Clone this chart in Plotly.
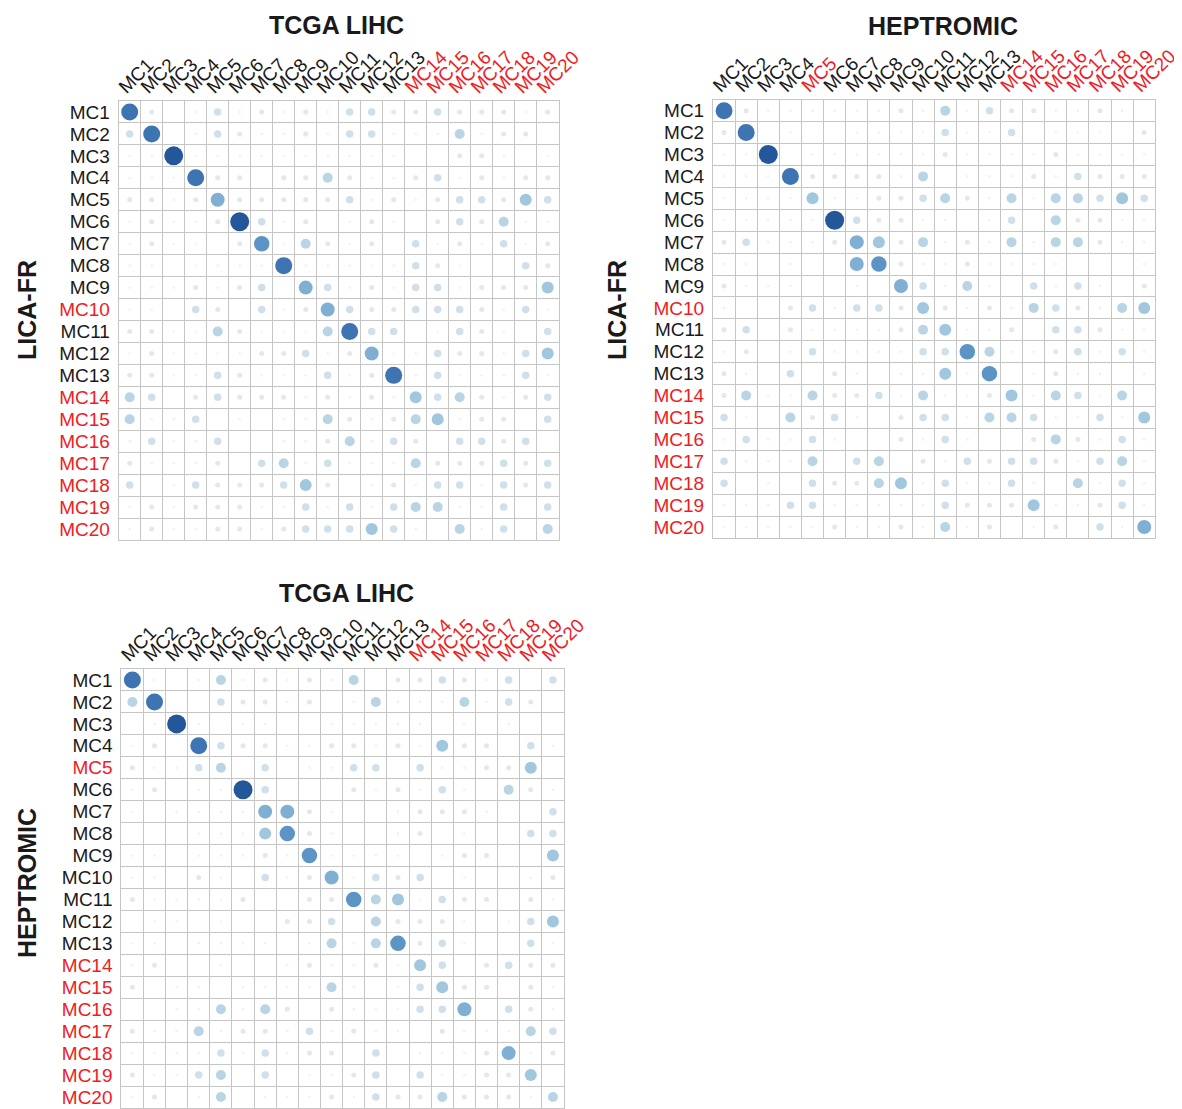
import plotly.graph_objects as go
import numpy as np

# ---------------- data ----------------
mc_labels = ["MC1", "MC2", "MC3", "MC4", "MC5", "MC6", "MC7", "MC8", "MC9", "MC10",
             "MC11", "MC12", "MC13", "MC14", "MC15", "MC16", "MC17", "MC18", "MC19", "MC20"]

tcga_red = ["MC14", "MC15", "MC16", "MC17", "MC18", "MC19", "MC20"]
lica_red = ["MC10", "MC14", "MC15", "MC16", "MC17", "MC18", "MC19", "MC20"]
heptromic_red = ["MC5", "MC14", "MC15", "MC16", "MC17", "MC18", "MC19", "MC20"]

# similarity strength (0-9) ; rows = y-axis cohort, cols = x-axis cohort
lica_vs_tcga = [
    [8, 2, 0, 1, 3, 1, 2, 1, 2, 1, 3, 3, 2, 2, 3, 2, 2, 2, 1, 2],
    [3, 8, 0, 1, 3, 2, 1, 1, 2, 1, 3, 3, 1, 1, 1, 4, 1, 2, 2, 0],
    [1, 1, 9, 1, 1, 1, 1, 1, 1, 1, 1, 1, 1, 0, 0, 2, 2, 1, 0, 1],
    [1, 1, 1, 8, 2, 2, 0, 2, 2, 4, 2, 1, 1, 2, 3, 1, 2, 1, 2, 2],
    [2, 2, 1, 2, 6, 2, 2, 2, 2, 2, 3, 1, 2, 1, 2, 3, 3, 2, 5, 3],
    [1, 2, 1, 1, 2, 9, 3, 1, 2, 0, 1, 2, 1, 0, 2, 3, 2, 4, 1, 1],
    [1, 2, 1, 1, 0, 2, 7, 1, 4, 2, 1, 2, 0, 3, 1, 2, 1, 3, 1, 2],
    [1, 1, 0, 1, 1, 1, 1, 8, 1, 1, 1, 1, 1, 3, 2, 1, 0, 0, 3, 2],
    [1, 1, 1, 2, 1, 2, 3, 0, 6, 3, 1, 2, 1, 3, 3, 1, 2, 2, 2, 5],
    [1, 1, 0, 3, 2, 0, 3, 1, 2, 6, 3, 2, 2, 3, 3, 3, 2, 1, 3, 1],
    [2, 2, 1, 1, 4, 2, 1, 1, 1, 4, 8, 3, 3, 0, 1, 3, 2, 1, 0, 3],
    [1, 2, 1, 1, 1, 1, 2, 2, 3, 1, 2, 6, 1, 1, 3, 2, 2, 1, 3, 5],
    [2, 2, 1, 1, 3, 2, 1, 1, 1, 3, 1, 2, 8, 1, 3, 1, 1, 1, 3, 1],
    [4, 3, 0, 2, 3, 2, 2, 2, 1, 2, 1, 2, 1, 5, 3, 4, 2, 1, 2, 3],
    [4, 1, 1, 3, 0, 1, 0, 1, 1, 4, 2, 1, 2, 4, 5, 1, 2, 2, 0, 3],
    [1, 3, 1, 1, 3, 0, 0, 1, 1, 2, 4, 1, 3, 2, 0, 3, 3, 2, 3, 0],
    [2, 1, 1, 1, 2, 0, 3, 4, 1, 3, 1, 1, 1, 4, 2, 2, 2, 3, 2, 3],
    [3, 0, 1, 3, 2, 2, 2, 3, 5, 2, 0, 1, 2, 1, 3, 3, 1, 3, 2, 3],
    [1, 2, 1, 2, 2, 2, 1, 1, 3, 1, 3, 1, 3, 4, 4, 1, 1, 3, 0, 3],
    [1, 2, 1, 1, 2, 2, 1, 2, 3, 3, 3, 5, 3, 1, 0, 4, 1, 3, 0, 4],
]

lica_vs_heptromic = [
    [8, 2, 1, 1, 1, 1, 1, 1, 2, 1, 4, 1, 3, 2, 2, 1, 1, 2, 1, 0],
    [2, 8, 0, 1, 0, 0, 1, 1, 1, 1, 3, 1, 1, 3, 0, 1, 1, 1, 0, 2],
    [1, 1, 9, 0, 1, 1, 1, 1, 1, 1, 2, 1, 1, 1, 1, 2, 1, 1, 1, 1],
    [1, 1, 1, 8, 2, 2, 2, 2, 1, 4, 0, 1, 1, 1, 2, 1, 3, 2, 2, 2],
    [1, 1, 1, 1, 5, 1, 1, 2, 2, 3, 4, 2, 1, 4, 1, 4, 4, 3, 5, 3],
    [1, 1, 1, 1, 1, 9, 3, 2, 2, 1, 1, 0, 1, 3, 0, 4, 2, 2, 1, 1],
    [2, 3, 1, 1, 1, 2, 6, 5, 2, 4, 1, 2, 1, 4, 1, 4, 4, 2, 1, 1],
    [1, 1, 0, 1, 0, 0, 6, 7, 2, 1, 1, 2, 1, 1, 1, 1, 0, 0, 0, 1],
    [2, 1, 1, 1, 0, 0, 1, 0, 6, 3, 1, 4, 1, 0, 3, 1, 3, 1, 0, 2],
    [1, 0, 0, 2, 3, 1, 3, 3, 2, 5, 2, 1, 2, 1, 4, 3, 2, 1, 4, 5],
    [2, 3, 0, 2, 1, 1, 1, 1, 2, 4, 5, 1, 1, 2, 0, 3, 3, 2, 1, 1],
    [1, 2, 0, 1, 3, 1, 1, 1, 1, 3, 3, 7, 4, 1, 1, 2, 3, 1, 3, 1],
    [2, 1, 0, 3, 0, 2, 1, 0, 1, 1, 5, 1, 7, 0, 1, 2, 1, 1, 0, 1],
    [2, 4, 1, 1, 4, 2, 2, 3, 1, 4, 1, 1, 2, 5, 1, 4, 3, 1, 4, 0],
    [3, 1, 0, 4, 2, 3, 1, 0, 2, 3, 3, 1, 4, 4, 3, 1, 1, 3, 1, 5],
    [1, 3, 1, 1, 3, 1, 0, 0, 2, 1, 3, 1, 0, 0, 2, 4, 2, 1, 3, 1],
    [3, 1, 1, 1, 4, 0, 3, 4, 0, 2, 1, 3, 2, 3, 3, 2, 1, 3, 4, 1],
    [3, 0, 1, 0, 3, 2, 2, 4, 5, 1, 3, 1, 1, 3, 1, 0, 4, 1, 3, 1],
    [1, 1, 1, 3, 3, 1, 1, 1, 1, 1, 3, 2, 2, 2, 5, 1, 1, 2, 3, 1],
    [1, 1, 1, 1, 1, 2, 1, 1, 2, 1, 4, 1, 2, 0, 1, 2, 0, 3, 1, 6],
]

heptromic_vs_tcga = [
    [8, 1, 0, 1, 4, 1, 2, 1, 2, 1, 4, 0, 2, 2, 3, 2, 1, 3, 0, 3],
    [4, 8, 0, 0, 3, 2, 2, 1, 2, 0, 1, 4, 1, 1, 1, 4, 1, 3, 2, 0],
    [0, 1, 9, 1, 0, 1, 1, 0, 0, 1, 1, 1, 1, 1, 0, 1, 0, 1, 0, 0],
    [1, 2, 0, 8, 3, 2, 2, 1, 1, 2, 2, 1, 2, 1, 5, 2, 2, 0, 3, 1],
    [2, 1, 1, 3, 4, 0, 3, 0, 1, 1, 3, 3, 0, 3, 1, 1, 2, 2, 5, 0],
    [1, 2, 0, 1, 1, 9, 3, 0, 0, 0, 2, 1, 2, 1, 3, 1, 0, 4, 2, 1],
    [1, 0, 1, 1, 1, 1, 6, 6, 2, 1, 0, 0, 1, 2, 2, 2, 1, 0, 0, 3],
    [0, 0, 0, 1, 1, 1, 5, 7, 2, 1, 0, 0, 1, 2, 0, 1, 0, 0, 3, 3],
    [1, 1, 0, 1, 1, 1, 2, 1, 7, 1, 1, 1, 1, 0, 1, 2, 2, 0, 0, 5],
    [1, 1, 0, 2, 1, 0, 3, 1, 2, 6, 1, 3, 2, 3, 0, 1, 0, 0, 1, 2],
    [2, 1, 1, 1, 1, 2, 0, 0, 2, 2, 7, 4, 5, 1, 3, 2, 2, 0, 2, 1],
    [0, 1, 1, 0, 1, 0, 0, 2, 2, 3, 0, 4, 2, 2, 2, 1, 0, 1, 3, 5],
    [1, 1, 0, 1, 1, 1, 1, 0, 1, 4, 1, 4, 7, 2, 3, 1, 0, 0, 3, 1],
    [1, 2, 0, 0, 1, 0, 0, 1, 2, 1, 1, 2, 1, 5, 3, 0, 2, 3, 2, 2],
    [2, 0, 1, 1, 0, 1, 1, 1, 1, 4, 1, 0, 1, 3, 5, 2, 2, 0, 2, 1],
    [0, 0, 1, 1, 4, 1, 4, 2, 0, 2, 1, 1, 1, 3, 3, 6, 0, 3, 2, 1],
    [2, 1, 1, 4, 1, 2, 2, 1, 3, 1, 2, 1, 1, 0, 2, 1, 1, 1, 4, 3],
    [1, 1, 1, 1, 3, 1, 3, 1, 2, 2, 0, 3, 0, 1, 1, 1, 2, 6, 1, 2],
    [2, 1, 1, 3, 4, 0, 3, 0, 1, 1, 2, 3, 0, 3, 1, 1, 2, 2, 5, 0],
    [1, 2, 0, 1, 4, 0, 1, 1, 1, 2, 1, 3, 2, 2, 4, 2, 2, 2, 1, 4],
]

# ---------------- styling ----------------
W, H = 1182, 1109
OFF = 8  # page body margin in the browser
RED = "#ee1c24"
FONT = "Arial, Liberation Sans, Helvetica, sans-serif"
GRID = "#c6c6c6"

level_pts = [0, 1, 2, 3, 4, 5, 6, 7, 8, 9]
size_pts = [0, 2.6, 5, 7.5, 10, 12, 14, 15.5, 17, 19]
colorscale = [
    [0.0, "#f7f8fa"], [1 / 9, "#eef2f6"], [2 / 9, "#e0e9f0"], [3 / 9, "#cfe0eb"],
    [4 / 9, "#b9d5e5"], [5 / 9, "#a0c7dd"], [6 / 9, "#7fb0d3"], [7 / 9, "#5c94c5"],
    [8 / 9, "#3e74b2"], [1.0, "#24569a"],
]


def colored(labels, reds):
    return [f'<span style="color:{RED}">{l}</span>' if l in reds else l for l in labels]


def px_x(v):
    return (v - OFF) / W


def px_y(v):
    return 1 - (v - OFF) / H


panels = [
    dict(m=lica_vs_tcga, xr=tcga_red, yr=lica_red, xd=(118.7, 558.7), yd=(101, 540),
         title="TCGA LIHC", ytitle="LICA-FR", tpos=(336, 25), ypos=(27, 310)),
    dict(m=lica_vs_heptromic, xr=heptromic_red, yr=lica_red, xd=(713, 1155.3), yd=(99.7, 538),
         title="HEPTROMIC", ytitle="LICA-FR", tpos=(943, 26), ypos=(617, 310)),
    dict(m=heptromic_vs_tcga, xr=tcga_red, yr=heptromic_red, xd=(121.3, 564), yd=(669, 1108),
         title="TCGA LIHC", ytitle="HEPTROMIC", tpos=(346, 593), ypos=(27, 883)),
]

fig = go.Figure()
annotations = []
layout_axes = {}
pos = list(range(1, 21))
bounds = [p - 0.5 for p in range(1, 22)]

for k, p in enumerate(panels, start=1):
    m = np.array(p["m"], dtype=float)
    rows, cols = np.nonzero(m > 0)
    vals = m[rows, cols]
    fig.add_trace(go.Scatter(
        x=cols + 1, y=rows + 1, mode="markers",
        marker=dict(size=np.interp(vals, level_pts, size_pts), color=vals,
                    colorscale=colorscale, cmin=0, cmax=9, line=dict(width=0), opacity=1),
        xaxis=f"x{k}", yaxis=f"y{k}", showlegend=False, hoverinfo="skip",
    ))
    xs = "xaxis" if k == 1 else f"xaxis{k}"
    ys = "yaxis" if k == 1 else f"yaxis{k}"
    layout_axes[xs] = dict(
        domain=[px_x(p["xd"][0]), px_x(p["xd"][1])], anchor=f"y{k}", side="top",
        range=[0.5, 20.5], tickmode="array", tickvals=pos, ticktext=colored(mc_labels, p["xr"]),
        tickangle=-45, tickfont=dict(size=19, color="#1a1a1a", family=FONT),
        ticklabelshift=-10, ticklabelstandoff=-5,
        showgrid=False, zeroline=False, showline=True, mirror=True, linecolor=GRID, linewidth=1,
        ticks="", automargin=False,
        minor=dict(tickmode="array", tickvals=bounds, showgrid=True, gridcolor=GRID,
                   gridwidth=1, ticks=""),
        fixedrange=True,
    )
    layout_axes[ys] = dict(
        domain=[px_y(p["yd"][1]), px_y(p["yd"][0])], anchor=f"x{k}",
        range=[20.5, 0.5], tickmode="array", tickvals=pos, ticktext=colored(mc_labels, p["yr"]),
        tickfont=dict(size=19, color="#1a1a1a", family=FONT),
        showgrid=False, zeroline=False, showline=True, mirror=True, linecolor=GRID, linewidth=1,
        ticks="outside", ticklen=4, tickcolor="rgba(0,0,0,0)", automargin=False,
        minor=dict(tickmode="array", tickvals=bounds, showgrid=True, gridcolor=GRID,
                   gridwidth=1, ticks=""),
        fixedrange=True,
    )
    annotations.append(dict(text=f"<b>{p['title']}</b>", x=px_x(p["tpos"][0]), y=px_y(p["tpos"][1]),
                            xref="paper", yref="paper", showarrow=False, xanchor="center",
                            yanchor="middle", font=dict(size=25, color="#1a1a1a", family=FONT)))
    annotations.append(dict(text=f"<b>{p['ytitle']}</b>", x=px_x(p["ypos"][0]), y=px_y(p["ypos"][1]),
                            xref="paper", yref="paper", showarrow=False, xanchor="center",
                            yanchor="middle", textangle=-90,
                            font=dict(size=25, color="#1a1a1a", family=FONT)))

fig.update_layout(
    width=W, height=H, margin=dict(l=0, r=0, t=0, b=0, autoexpand=False),
    paper_bgcolor="white", plot_bgcolor="white",
    annotations=annotations, **layout_axes,
)

fig.write_html("out.html")
